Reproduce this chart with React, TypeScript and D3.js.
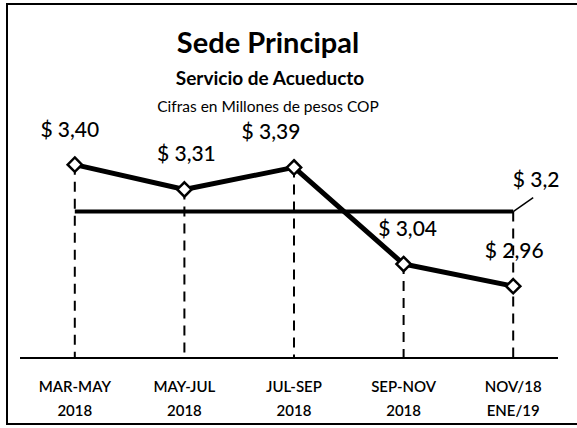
import React, { useRef, useEffect } from 'react';
import * as d3 from 'd3';

const categories = ['MAR-MAY|2018', 'MAY-JUL|2018', 'JUL-SEP|2018', 'SEP-NOV|2018', 'NOV/18|ENE/19'];
const values = [3.4, 3.31, 3.39, 3.04, 2.96];
const valueLabels = ['$ 3,40', '$ 3,31', '$ 3,39', '$ 3,04', '$ 2,96'];
const target = 3.23;
const targetLabel = '$ 3,2';

const width = 577;
const height = 428;
const font = 'Lato, "Open Sans", sans-serif';
// horizontal nudges for value labels
const labelShift = [-5, 2, -23, 4, 1];

const App: React.FC = () => {
  const ref = useRef<SVGSVGElement>(null);

  useEffect(() => {
    const svg = d3.select(ref.current);
    svg.selectAll('*').remove();

    const x = d3.scaleBand().domain(categories).range([20, 568]);
    const y = d3.scaleLinear().domain([2.7, 3.5]).range([358, 137]);
    const cx = (d: string) => (x(d) ?? 0) + x.bandwidth() / 2;

    svg.append('rect').attr('width', width).attr('height', height).attr('fill', '#fff');

    // frame
    svg.append('path')
      .attr('d', `M${width},4 H7 V424 H${width}`)
      .attr('fill', 'none')
      .attr('stroke', '#000')
      .attr('stroke-width', 2);

    // titles
    const t = svg.append('g').attr('font-family', font).attr('text-anchor', 'middle').attr('fill', '#000');
    t.append('text').attr('x', 268).attr('y', 53).attr('font-size', 29).attr('font-weight', 700).text('Sede Principal');
    t.append('text').attr('x', 270).attr('y', 85).attr('font-size', 19).attr('font-weight', 700).text('Servicio de Acueducto');
    t.append('text').attr('x', 268).attr('y', 112).attr('font-size', 15.5).text('Cifras en Millones de pesos COP');

    // axis line
    svg.append('line')
      .attr('x1', 20).attr('x2', 558)
      .attr('y1', y(2.7)).attr('y2', y(2.7))
      .attr('stroke', '#000').attr('stroke-width', 2);

    // drop lines
    svg.append('g')
      .selectAll('line')
      .data(categories)
      .join('line')
      .attr('x1', (d) => cx(d))
      .attr('x2', (d) => cx(d))
      .attr('y1', (d, i) => (i === categories.length - 1 ? y(target) : y(values[i])))
      .attr('y2', y(2.7))
      .attr('stroke', '#000')
      .attr('stroke-width', 2)
      .attr('stroke-dasharray', '10,7');

    // target line
    const first = cx(categories[0]);
    const last = cx(categories[categories.length - 1]);
    svg.append('line')
      .attr('x1', first).attr('x2', last)
      .attr('y1', y(target)).attr('y2', y(target))
      .attr('stroke', '#000').attr('stroke-width', 4);
    svg.append('line')
      .attr('x1', last).attr('x2', last + 20)
      .attr('y1', y(target)).attr('y2', y(target) - 14)
      .attr('stroke', '#000').attr('stroke-width', 1.5);

    // series
    const line = d3.line<number>()
      .x((d, i) => cx(categories[i]))
      .y((d) => y(d));
    svg.append('path')
      .datum(values)
      .attr('d', line)
      .attr('fill', 'none')
      .attr('stroke', '#000')
      .attr('stroke-width', 5)
      .attr('stroke-linejoin', 'round');

    svg.append('g')
      .selectAll('path')
      .data(values)
      .join('path')
      .attr('d', d3.symbol(d3.symbolDiamond2, 130)())
      .attr('transform', (d, i) => `translate(${cx(categories[i])},${y(d)})`)
      .attr('fill', '#fff')
      .attr('stroke', '#000')
      .attr('stroke-width', 2.5);

    // value labels
    const lab = svg.append('g').attr('font-family', font).attr('font-size', 21).attr('font-weight', 500).attr('text-anchor', 'middle').attr('fill', '#000');
    lab.selectAll('text')
      .data(values)
      .join('text')
      .attr('x', (d, i) => cx(categories[i]) + labelShift[i])
      .attr('y', (d) => y(d) - 28)
      .text((d, i) => valueLabels[i]);
    lab.append('text')
      .attr('x', last + 23)
      .attr('y', y(target) - 25)
      .text(targetLabel);

    // x labels
    const xl = svg.append('g').attr('font-family', font).attr('font-size', 15).attr('font-weight', 600).attr('text-anchor', 'middle');
    xl.selectAll('text')
      .data(categories)
      .join('text')
      .attr('x', (d) => cx(d))
      .attr('y', 392)
      .each(function (d) {
        const [a, b] = d.split('|');
        const el = d3.select(this);
        el.append('tspan').attr('x', cx(d)).text(a);
        el.append('tspan').attr('x', cx(d)).attr('dy', 24).text(b);
      });
  }, []);

  return (
    <svg
      ref={ref}
      width={width}
      height={height}
      style={{ position: 'absolute', left: 0, top: 0 }}
    />
  );
};

export default App;
